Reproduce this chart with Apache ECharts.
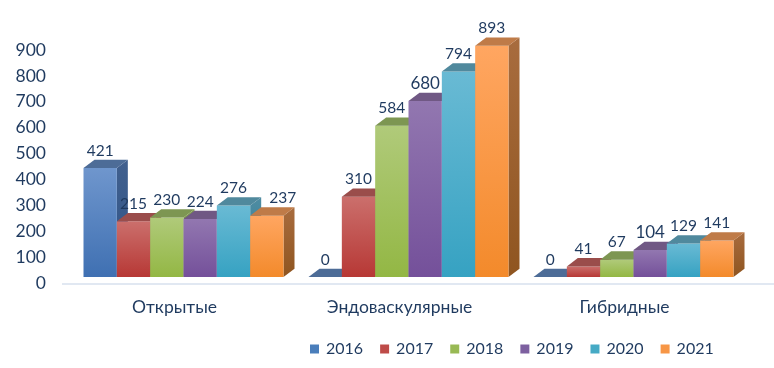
<!DOCTYPE html>
<html>
<head>
<meta charset="utf-8">
<style>
html, body { margin: 0; padding: 0; background: #fff; }
#chart { width: 774px; height: 368px; }
</style>
<script src="https://cdn.jsdelivr.net/npm/echarts@6/dist/echarts.min.js"></script>
</head>
<body>
<div id="chart"></div>
<script>
const categories = ["Открытые", "Эндоваскулярные", "Гибридные"];
const years = ["2016", "2017", "2018", "2019", "2020", "2021"];
const values2016 = [421, 0, 0];
const values2017 = [215, 310, 41];
const values2018 = [230, 584, 67];
const values2019 = [224, 680, 104];
const values2020 = [276, 794, 129];
const values2021 = [237, 893, 141];
const allValues = [values2016, values2017, values2018, values2019, values2020, values2021];

// front top, front bottom, top face, side top, side bottom, legend
const palette = [
    ["#6f96cd", "#3f70b2", "#4d6c97", "#41608e", "#2f5488", "#4a7ebb"],
    ["#cb6f6c", "#b73835", "#9a4d4b", "#9c4a48", "#8a2c2a", "#be4b48"],
    ["#b0ca7a", "#93b744", "#7d9652", "#80994f", "#6c8b32", "#98b954"],
    ["#9277b0", "#74509a", "#705884", "#6c5484", "#553a74", "#7d60a0"],
    ["#69bad4", "#36a2c2", "#50899d", "#4f8ca2", "#2a7c94", "#46aac5"],
    ["#ffa661", "#f38a2b", "#bf7b48", "#a86c3e", "#8f5520", "#f79646"],
];
const textColor = "#1f3a5f";
const fontFamily = "Lato, Carlito, sans-serif";

// oblique projection of the Excel 3D look
const depthX = 11;
const depthY = 8.3;
const frontDrop = 6;
const groupShift = 9;
const barsPerBand = 6.75;

function renderBar(seriesIdx) {
    const colors = palette[seriesIdx];
    return function (params, api) {
        const cat = api.value(0);
        const val = api.value(1);
        const band = api.size([1, 0])[0];
        const barW = band / barsPerBand;
        const cx = api.coord([cat, 0])[0];
        const x0 = cx + groupShift + barW * (seriesIdx - 3);
        const x1 = x0 + barW;
        const yBase = api.coord([cat, 0])[1] - frontDrop;
        const yTop = api.coord([cat, val])[1] - frontDrop;
        const vGrad = (a, b) =>
            new echarts.graphic.LinearGradient(0, 0, 0, 1, [
                { offset: 0, color: a },
                { offset: 1, color: b },
            ]);
        const label = String(val);
        // a few labels were nudged or bigger in the original
        const nudge = val === 237 ? 16 : 0;
        const big = val === 680 || val === 104;
        return {
            type: "group",
            children: [
                {
                    type: "polygon",
                    shape: {
                        points: [
                            [x1, yBase],
                            [x1 + depthX, yBase - depthY],
                            [x1 + depthX, yTop - depthY],
                            [x1, yTop],
                        ],
                    },
                    style: { fill: vGrad(colors[3], colors[4]) },
                },
                {
                    type: "rect",
                    shape: { x: x0, y: yTop, width: barW, height: yBase - yTop },
                    style: { fill: vGrad(colors[0], colors[1]) },
                },
                {
                    type: "polygon",
                    shape: {
                        points: [
                            [x0, yTop],
                            [x1, yTop],
                            [x1 + depthX, yTop - depthY],
                            [x0 + depthX, yTop - depthY],
                        ],
                    },
                    style: { fill: colors[2] },
                },
                {
                    type: "text",
                    z2: 20,
                    style: {
                        x: (x0 + x1) / 2 + nudge,
                        y: yTop - 17.5,
                        text: label,
                        fill: textColor,
                        font: (big ? "17px " : "15.5px ") + fontFamily,
                        align: "center",
                        verticalAlign: "middle",
                    },
                },
            ],
        };
    };
}

const chart = echarts.init(document.getElementById("chart"), null, { renderer: "canvas" });

chart.setOption({
    animation: false,
    backgroundColor: "#ffffff",
    textStyle: { fontFamily },
    grid: { left: 62, width: 675, top: 50, height: 233 },
    // floor line runs past the plot to the right edge
    graphic: [
        {
            type: "rect",
            silent: true,
            z: 0,
            shape: { x: 62, y: 283, width: 712, height: 2 },
            style: { fill: "#e1e8f2" },
        },
    ],
    legend: {
        left: 305,
        top: 336,
        icon: "rect",
        itemWidth: 9,
        itemHeight: 9,
        itemGap: 17,
        data: years,
        textStyle: { color: textColor, fontSize: 16, fontFamily, padding: [0, 0, 0, 2] },
    },
    xAxis: {
        type: "category",
        data: categories,
        axisLine: { show: false },
        axisTick: { show: false },
        splitLine: { show: false },
        axisLabel: { color: textColor, fontSize: 17.5, margin: 15.5, fontFamily },
    },
    yAxis: {
        type: "value",
        min: 0,
        max: 900,
        interval: 100,
        axisLine: { show: false },
        axisTick: { show: false },
        splitLine: { show: false },
        axisLabel: { color: textColor, fontSize: 17.5, margin: 16, fontFamily },
    },
    series: years.map((year, i) => ({
        name: year,
        type: "custom",
        renderItem: renderBar(i),
        itemStyle: { color: palette[i][5] },
        encode: { x: 0, y: 1 },
        data: allValues[i].map((v, c) => [c, v]),
    })),
});
</script>
</body>
</html>
